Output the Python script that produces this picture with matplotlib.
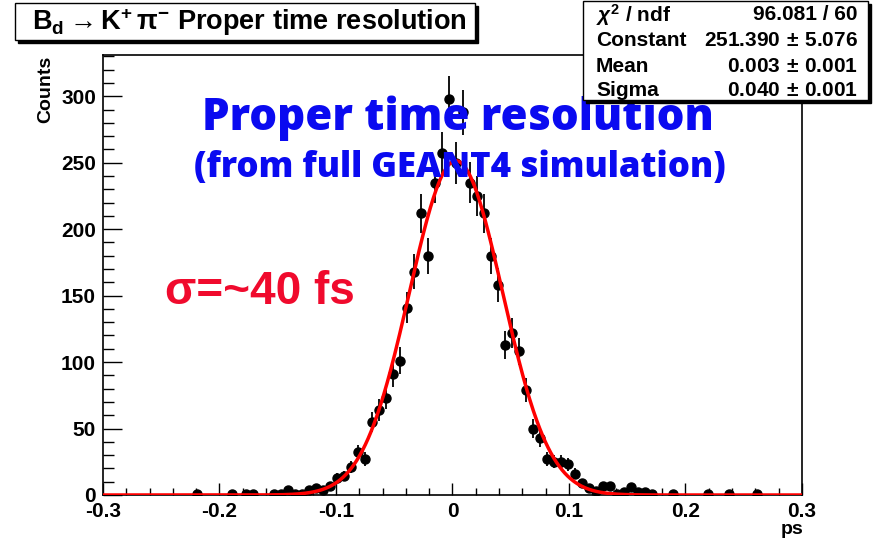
import matplotlib.pyplot as plt
import numpy as np
from matplotlib.patches import Rectangle

plt.rcParams['font.family'] = ['Liberation Sans', 'DejaVu Sans']
plt.rcParams['font.weight'] = 'bold'
plt.rcParams['mathtext.fontset'] = 'custom'
plt.rcParams['mathtext.rm'] = 'Liberation Sans:bold'
plt.rcParams['mathtext.bf'] = 'Liberation Sans:bold'
plt.rcParams['mathtext.it'] = 'Liberation Sans:bold:italic'

# histogram: 100 bins from -0.3 to 0.3 ps
x_min, x_max, n_bins = -0.3, 0.3, 100
counts = [
    0, 0, 0, 0, 0, 0, 0, 0, 0, 0,
    0, 0, 0, 1, 0, 0, 0, 0, 1, 0,
    1, 1, 0, 0, 1, 1, 4, 1, 1, 4,
    5, 4, 7, 13, 14, 21, 32, 27, 55, 64,
    73, 91, 101, 141, 168, 212, 180, 235, 257, 298,
    250, 288, 235, 225, 212, 180, 158, 113, 122, 108,
    79, 50, 43, 27, 25, 25, 23, 16, 9, 5,
    3, 7, 7, 1, 2, 6, 2, 2, 1, 0,
    0, 1, 0, 0, 0, 0, 1, 0, 0, 1,
    0, 0, 0, 1, 0, 0, 0, 0, 0, 0,
]

# gaussian fit results
fit_constant = 251.390
fit_mean = 0.003
fit_sigma = 0.040
stat_labels = [r'$\chi^2$ / ndf', 'Constant', 'Mean', 'Sigma']
stat_values = ['96.081 / 60', r'251.390$\,\pm\,$5.076',
               r'0.003$\,\pm\,$0.001', r'0.040$\,\pm\,$0.001']

W, H = 878, 540


def fx(px):
    return px / W


def fy(py):
    return 1 - py / H


fig = plt.figure(figsize=(W / 100, H / 100), dpi=100)
ax = fig.add_axes([fx(103), fy(495), fx(802) - fx(103), fy(55) - fy(495)])

edges = np.linspace(x_min, x_max, n_bins + 1)
centers = 0.5 * (edges[:-1] + edges[1:])
counts = np.array(counts)
filled = counts > 0

# data points with poisson errors
ax.errorbar(centers[filled], counts[filled], yerr=np.sqrt(counts[filled]),
            fmt='o', color='black', ms=6.5, elinewidth=1.3, capsize=0, zorder=3)

# gaussian fit curve
x = np.linspace(x_min, x_max, 1000)
y = fit_constant * np.exp(-0.5 * ((x - fit_mean) / fit_sigma) ** 2)
ax.plot(x, y, color='red', lw=2.5, zorder=4)

ax.set_xlim(x_min, x_max)
ax.set_ylim(0, 331)
ax.set_xticks(np.arange(-0.3, 0.31, 0.1))
ax.set_xticklabels(['-0.3', '-0.2', '-0.1', '0', '0.1', '0.2', '0.3'])
ax.set_xticks(np.arange(-0.3, 0.31, 0.02), minor=True)
ax.set_yticks(np.arange(0, 301, 50))
ax.set_yticks(np.arange(0, 331, 10), minor=True)
ax.tick_params(which='both', direction='in', top=False, right=False,
               labelsize=15, width=1)
ax.tick_params(axis='y', which='major', length=14, pad=5)
ax.tick_params(axis='y', which='minor', length=8)
ax.tick_params(axis='x', which='major', length=9, pad=5)
ax.tick_params(axis='x', which='minor', length=5)
for side in ax.spines.values():
    side.set_linewidth(1.2)

fig.text(fx(46), fy(56), 'Counts', rotation=90, ha='center', va='top', fontsize=14)
fig.text(fx(803), fy(521), 'ps', ha='right', va='top', fontsize=14)

# overlay annotations
fig.text(fx(458), fy(118), 'Proper time resolution', color='#0a0af0',
         family='Open Sans', weight='heavy', fontsize=31.5, ha='center', va='center')
fig.text(fx(460), fy(168), '(from full GEANT4 simulation)', color='#0a0af0',
         family='Open Sans', weight='heavy', fontsize=25, ha='center', va='center')
fig.text(fx(165), fy(292), r'σ=~40 fs', color='#f00a2d',
         fontsize=33, ha='left', va='center')

# title box with shadow
fig.patches.append(Rectangle((fx(18), fy(43)), fx(475) - fx(15), fy(3) - fy(40),
                             transform=fig.transFigure, color='black', zorder=5))
fig.patches.append(Rectangle((fx(15), fy(40)), fx(475) - fx(15), fy(3) - fy(40),
                             transform=fig.transFigure, facecolor='white',
                             edgecolor='black', lw=1, zorder=6))
fig.text(fx(32), fy(22),
         r'$\mathbf{B_d \rightarrow K^{+}}\,\mathrm{\pi^{-}}$ Proper time resolution',
         fontsize=19.5, ha='left', va='center', zorder=7)

# fit statistics box with shadow
fig.patches.append(Rectangle((fx(586), fy(103)), fx(868) - fx(583), fy(1) - fy(100),
                             transform=fig.transFigure, color='black', zorder=5))
fig.patches.append(Rectangle((fx(583), fy(100)), fx(868) - fx(583), fy(1) - fy(100),
                             transform=fig.transFigure, facecolor='white',
                             edgecolor='black', lw=1, zorder=6))
rows_y = [15, 41, 67, 91]
for label, value, ry in zip(stat_labels, stat_values, rows_y):
    fig.text(fx(596), fy(ry), label, fontsize=15, ha='left', va='center', zorder=7)
    fig.text(fx(858), fy(ry), value, fontsize=15, ha='right', va='center', zorder=7)

fig.savefig('out.png', dpi=100)
